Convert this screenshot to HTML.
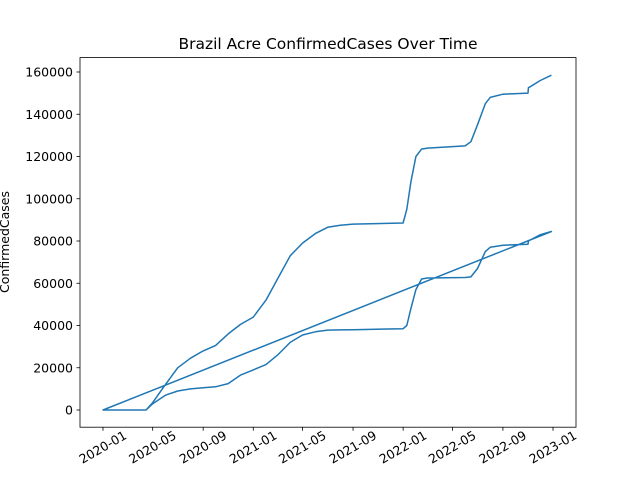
<!DOCTYPE html>
<html><head><meta charset="utf-8"><style>
body{margin:0;background:#fff}
svg{display:block;font-family:"DejaVu Sans","Liberation Sans",sans-serif}
</style></head><body>
<svg id="chart" width="640" height="480" viewBox="0 0 640 480" xmlns="http://www.w3.org/2000/svg">
<rect width="640" height="480" fill="#fff"/>
<text x="328" y="49" text-anchor="middle" font-size="15.5">Brazil Acre ConfirmedCases Over Time</text>
<text transform="translate(9,242) rotate(-90)" text-anchor="middle" font-size="12.5">ConfirmedCases</text>
<g id="ticks"></g>
<path id="line" fill="none" stroke="#1f77b4" stroke-width="1.5" stroke-linejoin="round"/>
<rect x="80" y="57.6" width="496" height="369.6" fill="none" stroke="#000" stroke-width="0.8"/>
</svg>
<script>
const dates = ["2020-01-01","2020-04-15","2020-05-01","2020-06-01","2020-07-01","2020-08-01","2020-09-01","2020-10-01","2020-11-01","2020-12-01","2021-01-01","2021-02-01","2021-03-01","2021-04-01","2021-05-01","2021-06-01","2021-07-01","2021-08-01","2021-09-01","2022-01-01","2022-01-10","2022-01-20","2022-02-01","2022-02-15","2022-03-01","2022-06-01","2022-06-15","2022-07-01","2022-07-20","2022-08-01","2022-09-01","2022-11-01","2022-11-02","2022-12-01","2022-12-28"];
const lowerValues = [0,0,3000,7000,9000,10000,10500,11000,12500,16500,19000,21500,26000,32000,35500,37000,37800,37900,38000,38500,40000,48000,57000,62000,62500,62700,63000,67000,75000,77000,78000,78500,80000,83000,84500];
const upperValues = [0,0,3500,12000,20000,24500,28000,30500,36000,40500,44000,52000,62000,73000,79000,83500,86500,87500,88000,88500,95000,108000,120000,123500,124000,125000,127000,135000,145000,148000,149500,150000,152500,156000,158500];
const yTicks = [0,20000,40000,60000,80000,100000,120000,140000,160000];
const xTicks = ["2020-01","2020-05","2020-09","2021-01","2021-05","2021-09","2022-01","2022-05","2022-09","2023-01"];

const t0 = Date.UTC(2020,0,1);
function days(s){const p=s.split("-");return (Date.UTC(+p[0],+p[1]-1,p[2]?+p[2]:1)-t0)/86400000;}
function xScale(d){return 103 + d*(450/1096);}
function yScale(v){return 410 - v*(42.25/20000);}

const NS="http://www.w3.org/2000/svg";
const g=document.getElementById("ticks");
yTicks.forEach(v=>{
  const y=yScale(v);
  const l=document.createElementNS(NS,"line");
  l.setAttribute("x1",76.5);l.setAttribute("x2",80);l.setAttribute("y1",y);l.setAttribute("y2",y);l.setAttribute("stroke","#000");l.setAttribute("stroke-width","0.8");
  
  
  g.appendChild(l);
  const t=document.createElementNS(NS,"text");
  t.setAttribute("x",73);t.setAttribute("y",y+4.5);t.setAttribute("text-anchor","end");t.setAttribute("font-size","12.5");
  t.textContent=v;
  
  
  g.appendChild(t);
});
xTicks.forEach(s=>{
  const x=xScale(days(s));
  const l=document.createElementNS(NS,"line");
  l.setAttribute("x1",x);l.setAttribute("x2",x);l.setAttribute("y1",427.2);l.setAttribute("y2",430.7);l.setAttribute("stroke","#000");l.setAttribute("stroke-width","0.8");
  
  
  g.appendChild(l);
  const t=document.createElementNS(NS,"text");
  t.setAttribute("transform","translate("+(x+2)+",451) rotate(-30)");
  t.setAttribute("text-anchor","middle");t.setAttribute("font-size","12.5");
  t.textContent=s;
  
  
  g.appendChild(t);
});
const pts=[];
dates.forEach((d,i)=>pts.push([xScale(days(d)),yScale(lowerValues[i])]));
dates.forEach((d,i)=>pts.push([xScale(days(d)),yScale(upperValues[i])]));
document.getElementById("line").setAttribute("d","M"+pts.map(p=>p[0].toFixed(1)+","+p[1].toFixed(1)).join("L"));
</script>
</body></html>
